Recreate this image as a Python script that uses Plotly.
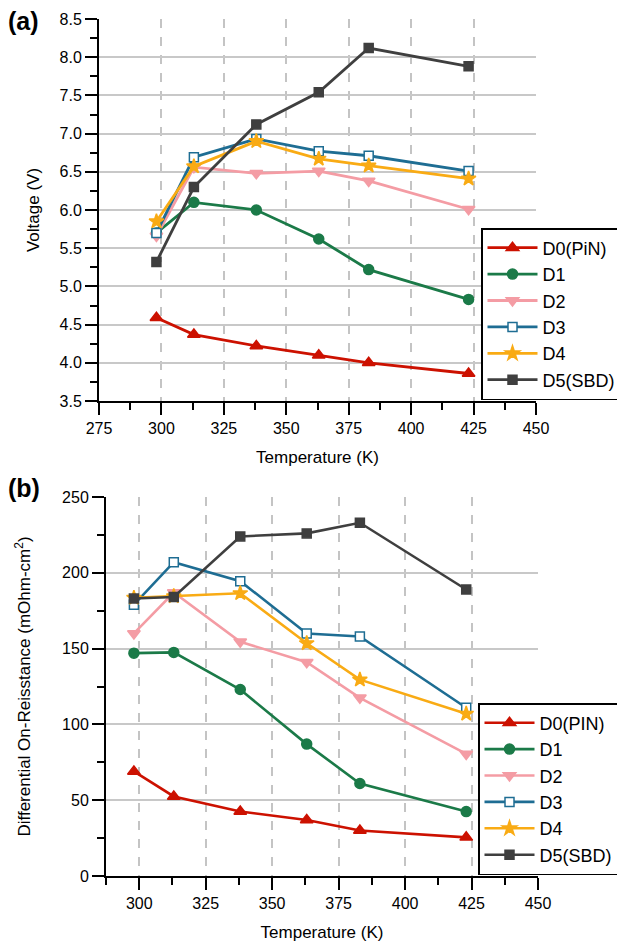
import plotly.graph_objects as go

# ---------------- data ----------------
temps = [298, 313, 338, 363, 383, 423]
names_a = ["D0(PiN)", "D1", "D2", "D3", "D4", "D5(SBD)"]
names_b = ["D0(PIN)", "D1", "D2", "D3", "D4", "D5(SBD)"]

volt_d0 = [4.59, 4.37, 4.22, 4.10, 4.00, 3.86]
volt_d1 = [5.70, 6.10, 6.00, 5.62, 5.22, 4.83]
volt_d2 = [5.66, 6.56, 6.48, 6.51, 6.38, 6.01]
volt_d3 = [5.70, 6.69, 6.93, 6.77, 6.71, 6.51]
volt_d4 = [5.85, 6.57, 6.90, 6.67, 6.58, 6.41]
volt_d5 = [5.32, 6.30, 7.12, 7.54, 8.12, 7.88]

res_d0 = [69.0, 52.5, 42.5, 37.0, 30.0, 25.5]
res_d1 = [147.0, 147.5, 123.0, 87.0, 61.0, 42.5]
res_d2 = [160.0, 187.0, 154.5, 141.0, 117.5, 80.5]
res_d3 = [179.0, 207.0, 194.5, 160.0, 158.0, 111.0]
res_d4 = [183.5, 184.5, 186.5, 153.5, 129.5, 107.0]
res_d5 = [183.0, 184.0, 224.0, 226.0, 233.0, 189.0]

volt_series = [volt_d0, volt_d1, volt_d2, volt_d3, volt_d4, volt_d5]
res_series = [res_d0, res_d1, res_d2, res_d3, res_d4, res_d5]

x_ticks_a = [275, 300, 325, 350, 375, 400, 425, 450]
x_ticks_b = [300, 325, 350, 375, 400, 425, 450]
x_grid = [300, 325, 350, 375, 400, 425]
y_ticks_a = [3.5, 4.0, 4.5, 5.0, 5.5, 6.0, 6.5, 7.0, 7.5, 8.0, 8.5]
y_grid_a = [4.0, 4.5, 5.0, 5.5, 6.0, 6.5, 7.0, 7.5, 8.0]
y_ticks_b = [0, 50, 100, 150, 200, 250]
y_grid_b = [50, 100, 150, 200]

# ---------------- styles ----------------
colors = ["#cc1100", "#1b7a48", "#f49ca4", "#1e6d93", "#f9ab14", "#3f3f3f"]
symbols = ["triangle-up", "circle", "triangle-down", "square", "star", "square"]
msizes = [11, 10, 11, 9, 11, 9]
FONT = "Liberation Sans, Arial, sans-serif"

fig = go.Figure()

for i in range(6):
    fill = "white" if i == 3 else colors[i]
    fig.add_trace(go.Scatter(
        x=temps, y=volt_series[i], name=names_a[i], mode="lines+markers",
        line=dict(color=colors[i], width=2.8),
        marker=dict(symbol=symbols[i], size=msizes[i], color=fill,
                    line=dict(color=colors[i], width=1.5)),
        xaxis="x", yaxis="y", legend="legend"))

for i in range(6):
    fill = "white" if i == 3 else colors[i]
    fig.add_trace(go.Scatter(
        x=temps, y=res_series[i], name=names_b[i], mode="lines+markers",
        line=dict(color=colors[i], width=2.6),
        marker=dict(symbol=symbols[i], size=msizes[i], color=fill,
                    line=dict(color=colors[i], width=1.5)),
        xaxis="x2", yaxis="y2", legend="legend2"))

# empty traces so that the grid-only overlay axes get drawn
fig.add_trace(go.Scatter(x=[], y=[], xaxis="x3", yaxis="y3", showlegend=False,
                         hoverinfo="skip"))
fig.add_trace(go.Scatter(x=[], y=[], xaxis="x4", yaxis="y4", showlegend=False,
                         hoverinfo="skip"))

W, H = 625, 946
dom_xa = [91 / W, 528 / W]
dom_ya = [1 - 393 / H, 1 - 11 / H]
dom_xb = [98 / W, 530 / W]
dom_yb = [1 - 868 / H, 1 - 489 / H]

tickfont = dict(family=FONT, size=16, color="black")
titlefont = dict(family=FONT, size=17, color="black")

common_axis = dict(showline=True, linecolor="black", linewidth=2,
                   ticks="outside", ticklen=12, tickwidth=2, tickcolor="black",
                   showgrid=False, zeroline=False, tickfont=tickfont,
                   automargin=False)
grid_axis = dict(showticklabels=False, ticks="", showline=False, zeroline=False,
                 automargin=False)

legend_common = dict(xanchor="left", yanchor="top", bgcolor="white",
                     bordercolor="black", borderwidth=1.5, itemwidth=50,
                     font=dict(family=FONT, size=18, color="black"))

fig.update_layout(
    width=W, height=H,
    margin=dict(l=0, r=0, t=0, b=0),
    paper_bgcolor="white", plot_bgcolor="white",
    font=dict(family=FONT, color="black"),
    xaxis=dict(domain=dom_xa, anchor="y", range=[275, 450],
               tickmode="array", tickvals=x_ticks_a,
               minor=dict(dtick=12.5, tick0=275, ticks="outside", ticklen=7,
                          tickwidth=2, tickcolor="black", showgrid=False),
               title=dict(text="Temperature (K)", font=titlefont, standoff=15),
               **common_axis),
    yaxis=dict(domain=dom_ya, anchor="x", range=[3.5, 8.5],
               tickmode="array", tickvals=y_ticks_a, tickformat=".1f",
               minor=dict(dtick=0.25, tick0=3.5, ticks="outside", ticklen=7,
                          tickwidth=2, tickcolor="black", showgrid=False),
               title=dict(text="Voltage (V)", font=titlefont, standoff=16),
               **common_axis),
    xaxis2=dict(domain=dom_xb, anchor="y2", range=[287.5, 450],
                tickmode="array", tickvals=x_ticks_b,
                minor=dict(dtick=12.5, tick0=287.5, ticks="outside", ticklen=7,
                           tickwidth=2, tickcolor="black", showgrid=False),
                title=dict(text="Temperature (K)", font=titlefont, standoff=15),
                **common_axis),
    yaxis2=dict(domain=dom_yb, anchor="x2", range=[0, 250],
                tickmode="array", tickvals=y_ticks_b,
                minor=dict(dtick=25, tick0=0, ticks="outside", ticklen=7,
                           tickwidth=2, tickcolor="black", showgrid=False),
                title=dict(text="Differential On-Reisstance (mOhm-cm<sup>2</sup>)",
                           font=titlefont, standoff=27),
                **common_axis),
    # grid-only overlay axes
    xaxis3=dict(overlaying="x", anchor="y3", range=[275, 450], tickmode="array",
                tickvals=x_grid, showgrid=True, griddash="dash",
                gridcolor="#c4c4c4", gridwidth=2, **grid_axis),
    yaxis3=dict(overlaying="y", anchor="x3", range=[3.5, 8.5], tickmode="array",
                tickvals=y_grid_a, showgrid=True, gridcolor="#c8c8c8",
                gridwidth=2, **grid_axis),
    xaxis4=dict(overlaying="x2", anchor="y4", range=[287.5, 450], tickmode="array",
                tickvals=x_grid, showgrid=True, griddash="dash",
                gridcolor="#c4c4c4", gridwidth=2, **grid_axis),
    yaxis4=dict(overlaying="y2", anchor="x4", range=[0, 250], tickmode="array",
                tickvals=y_grid_b, showgrid=True, gridcolor="#c8c8c8",
                gridwidth=2, **grid_axis),
    legend=dict(x=473 / W, y=1 - 220 / H, **legend_common),
    legend2=dict(x=470 / W, y=1 - 695 / H, **legend_common),
    annotations=[
        dict(text="<b>(a)</b>", x=0, y=1 - 13 / H, xref="paper", yref="paper",
             xanchor="left", yanchor="middle", showarrow=False, xshift=-2,
             font=dict(family=FONT, size=25, color="black")),
        dict(text="<b>(b)</b>", x=0, y=1 - 480 / H, xref="paper", yref="paper",
             xanchor="left", yanchor="middle", showarrow=False, xshift=-2,
             font=dict(family=FONT, size=25, color="black")),
    ],
)

fig.write_html("out.html")
